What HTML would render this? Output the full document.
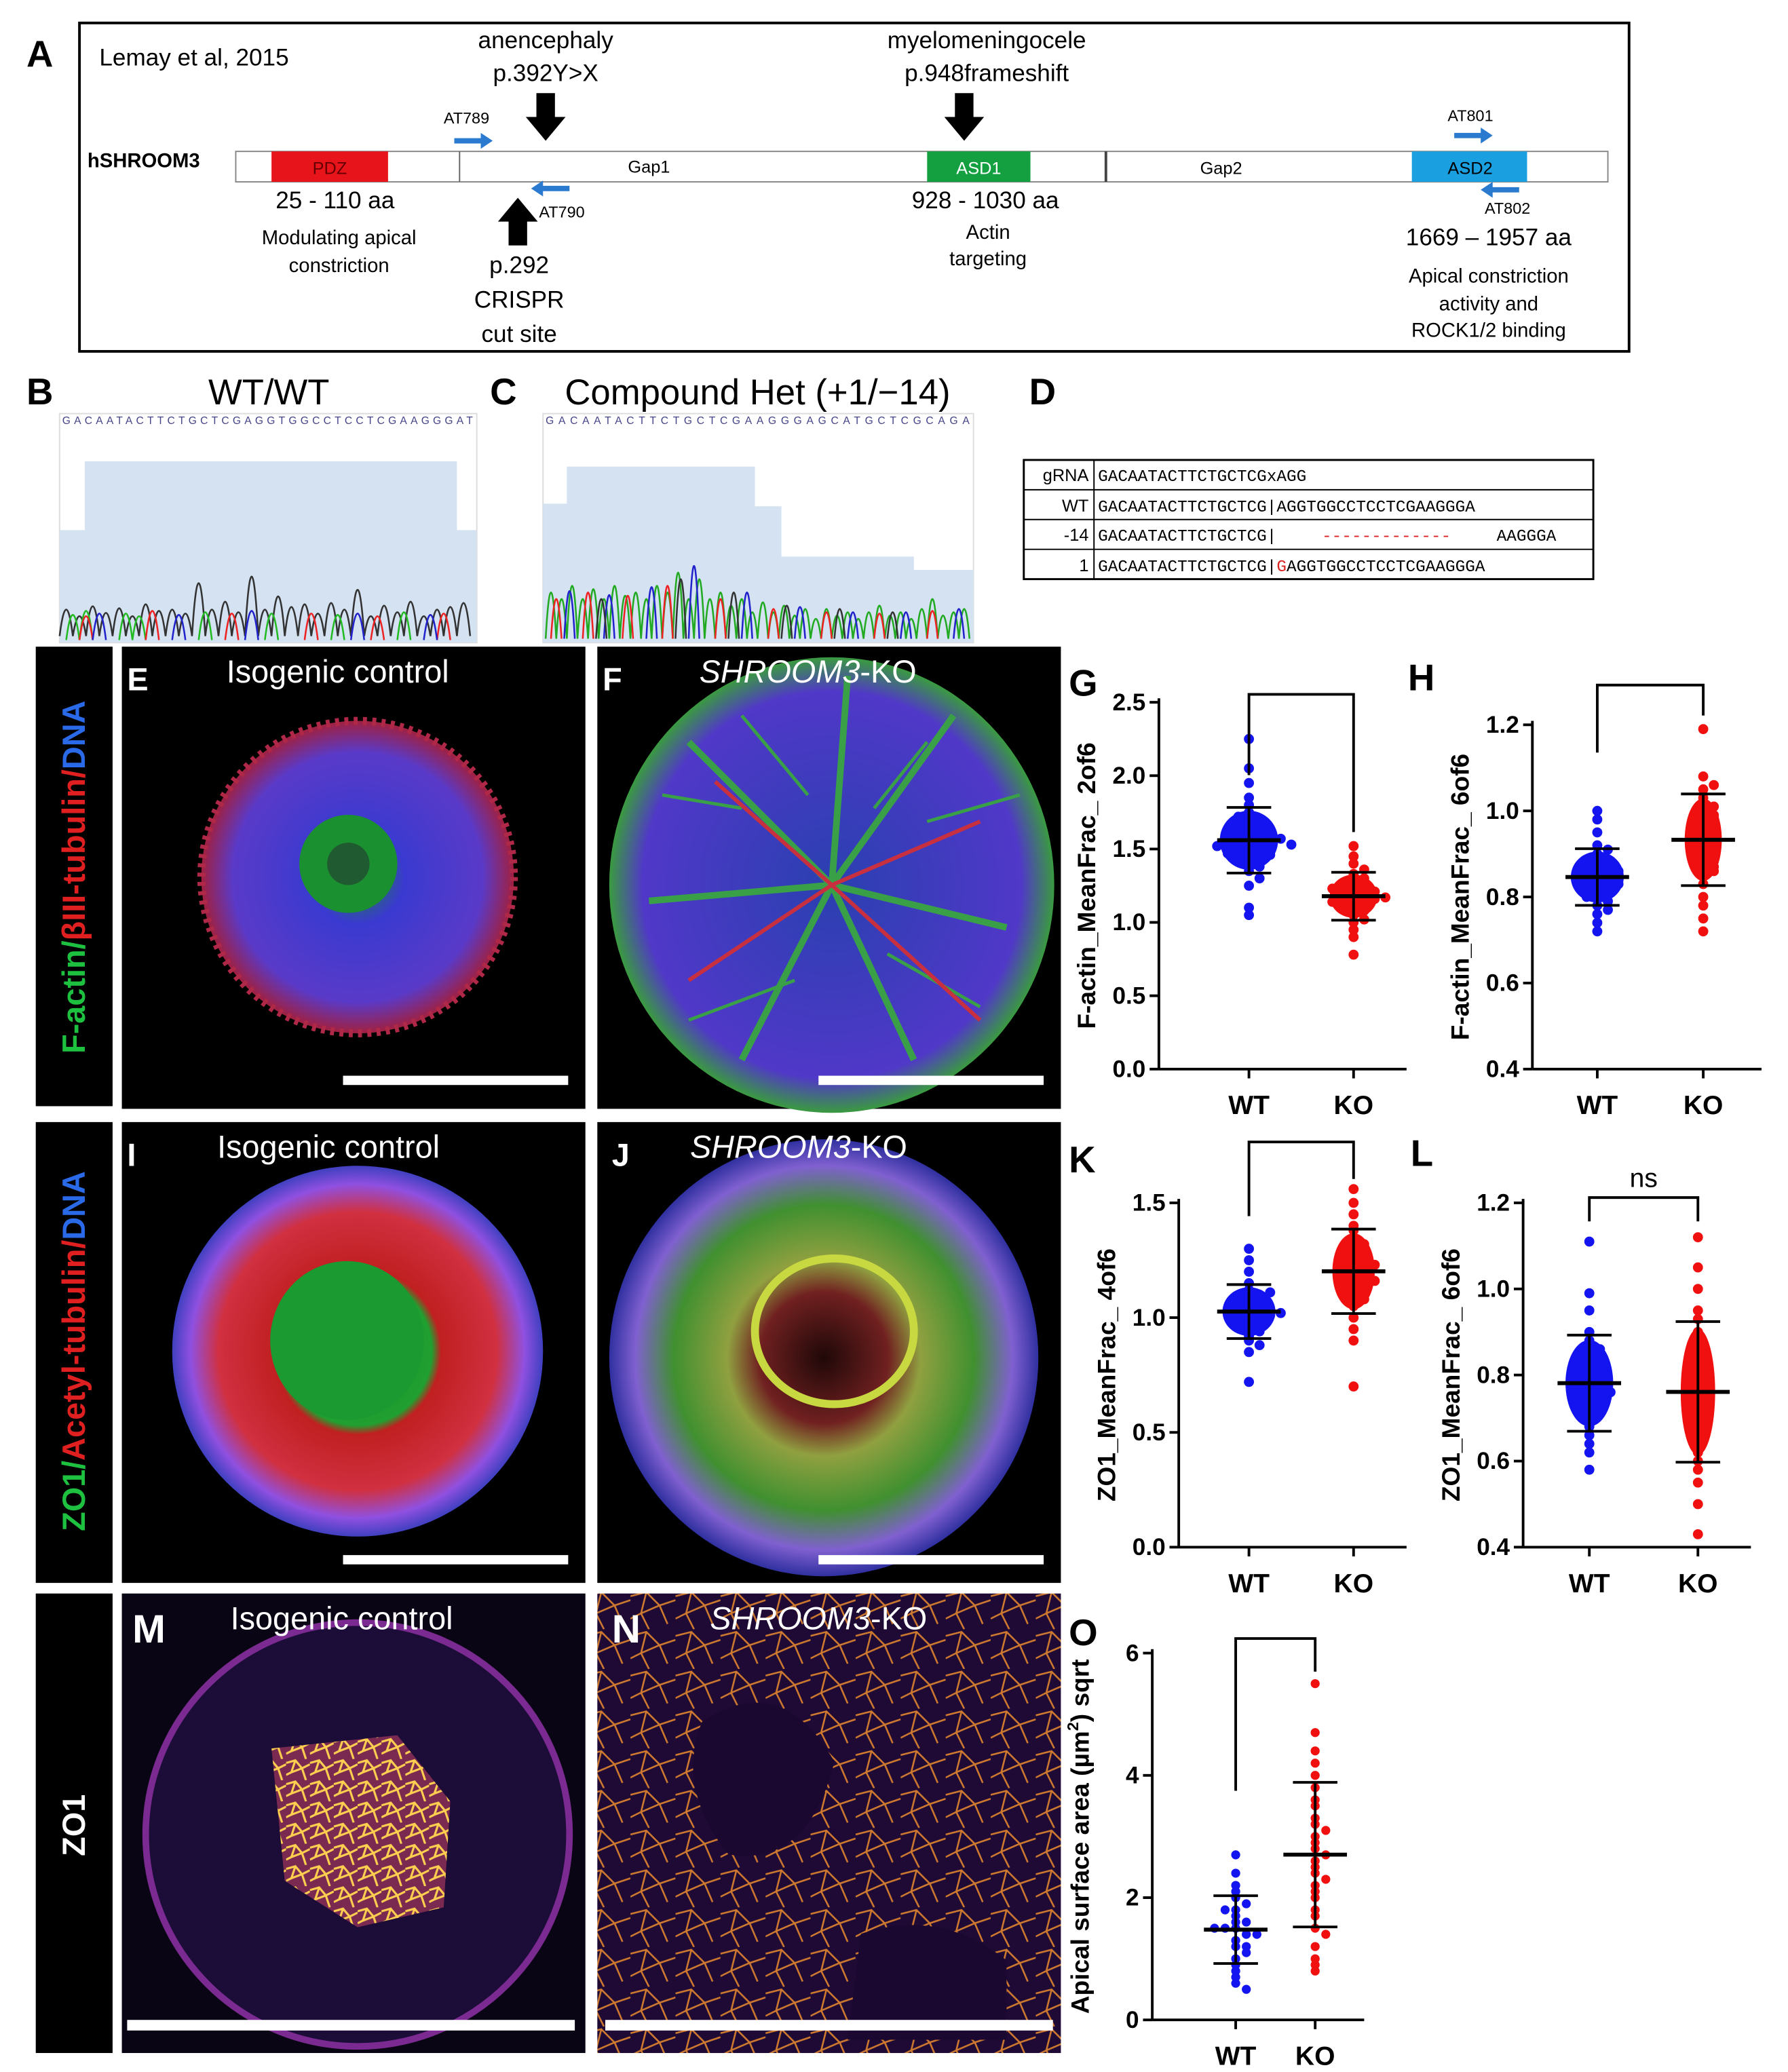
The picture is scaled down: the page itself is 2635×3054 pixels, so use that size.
<!DOCTYPE html>
<html><head><meta charset="utf-8">
<style>
html,body{margin:0;padding:0;background:#fff;}
svg{display:block;font-family:"Liberation Sans",sans-serif;}
</style></head>
<body>
<svg id="fig" width="2635" height="3054" viewBox="0 0 1350 1564" xmlns="http://www.w3.org/2000/svg">
<defs>
<radialGradient id="gE" cx="50%" cy="50%" r="50%"><stop offset="0" stop-color="#1a8a2a"/><stop offset="0.3" stop-color="#3a3ad0"/><stop offset="0.8" stop-color="#5a3ac8"/><stop offset="1" stop-color="#a02040"/></radialGradient>
<radialGradient id="gF" cx="50%" cy="50%" r="50%"><stop offset="0" stop-color="#2a40b0"/><stop offset="0.85" stop-color="#5038c8"/><stop offset="1" stop-color="#3a9a40"/></radialGradient>
<radialGradient id="gI" cx="50%" cy="50%" r="50%"><stop offset="0" stop-color="#1a9030"/><stop offset="0.4" stop-color="#20a030"/><stop offset="0.45" stop-color="#c02020"/><stop offset="0.75" stop-color="#d03040"/><stop offset="0.9" stop-color="#9050e0"/><stop offset="1" stop-color="#4040c0"/></radialGradient>
<radialGradient id="gJ" cx="50%" cy="50%" r="50%"><stop offset="0" stop-color="#200808"/><stop offset="0.3" stop-color="#702020"/><stop offset="0.45" stop-color="#90a040"/><stop offset="0.7" stop-color="#409030"/><stop offset="0.88" stop-color="#8060d0"/><stop offset="1" stop-color="#3030a0"/></radialGradient>
<pattern id="net" width="34" height="30" patternUnits="userSpaceOnUse"><rect width="34" height="30" fill="#1e0a34"/><path d="M0 5 L12 2 L22 12 L34 8 M12 2 L8 18 L22 12 L28 26 M8 18 L0 22 M8 18 L14 30" stroke="#d07a30" stroke-width="1.3" fill="none"/></pattern>
<pattern id="net2" width="18" height="16" patternUnits="userSpaceOnUse"><rect width="18" height="16" fill="#7a2a50"/><path d="M0 3 L7 1 L12 7 L18 4 M7 1 L4 10 L12 7 L15 16 M4 10 L0 12" stroke="#ffd050" stroke-width="1.6" fill="none"/></pattern>
</defs>

<!-- Panel A -->
<g>
<text x="20" y="50" font-size="28" font-weight="bold">A</text>
<rect x="60" y="17" width="1170" height="248" fill="none" stroke="#000" stroke-width="2"/>
<text x="75" y="49" font-size="18">Lemay et al, 2015</text>
<text x="66" y="126" font-size="15" font-weight="bold">hSHROOM3</text>
<rect x="178" y="114" width="1036" height="23" fill="#fff" stroke="#888"/>
<rect x="205" y="114" width="88" height="23" fill="#e8141c"/>
<text x="249" y="131" font-size="13" text-anchor="middle" fill="#600">PDZ</text>
<line x1="347" y1="114" x2="347" y2="137" stroke="#666"/>
<text x="490" y="130" font-size="13" text-anchor="middle">Gap1</text>
<rect x="700" y="114" width="78" height="23" fill="#14a040"/>
<text x="739" y="131" font-size="13" text-anchor="middle" fill="#fff">ASD1</text>
<line x1="835" y1="114" x2="835" y2="137" stroke="#444" stroke-width="2"/>
<text x="922" y="131" font-size="13" text-anchor="middle">Gap2</text>
<rect x="1066" y="114" width="87" height="23" fill="#1aa0e0"/>
<text x="1110" y="131" font-size="13" text-anchor="middle">ASD2</text>
<text x="412" y="36" font-size="18" text-anchor="middle">anencephaly</text>
<text x="412" y="61" font-size="18" text-anchor="middle">p.392Y&gt;X</text>
<path d="M405 70 h14 v18 h8 l-15 18 l-15 -18 h8z" fill="#000"/>
<text x="745" y="36" font-size="18" text-anchor="middle">myelomeningocele</text>
<text x="745" y="61" font-size="18" text-anchor="middle">p.948frameshift</text>
<path d="M721 70 h14 v18 h8 l-15 18 l-15 -18 h8z" fill="#000"/>
<path d="M384 185 h14 v-18 h8 l-15 -18 l-15 18 h8z" fill="#000"/>
<text x="392" y="206" font-size="18" text-anchor="middle">p.292</text>
<text x="392" y="232" font-size="18" text-anchor="middle">CRISPR</text>
<text x="392" y="258" font-size="18" text-anchor="middle">cut site</text>
<text x="335" y="93" font-size="12">AT789</text>
<path d="M343 104 h20 v-4 l9 6 l-9 6 v-4 h-20z" fill="#2a7ad0"/>
<text x="407" y="164" font-size="12">AT790</text>
<path d="M430 140 h-20 v-4 l-9 6 l9 6 v-4 h20z" fill="#2a7ad0"/>
<text x="1093" y="91" font-size="12">AT801</text>
<path d="M1098 100 h20 v-4 l9 6 l-9 6 v-4 h-20z" fill="#2a7ad0"/>
<text x="1121" y="161" font-size="12">AT802</text>
<path d="M1147 141 h-20 v-4 l-9 6 l9 6 v-4 h20z" fill="#2a7ad0"/>
<text x="253" y="157" font-size="18" text-anchor="middle">25 - 110 aa</text>
<text x="256" y="184" font-size="15" text-anchor="middle">Modulating apical</text>
<text x="256" y="205" font-size="15" text-anchor="middle">constriction</text>
<text x="744" y="157" font-size="18" text-anchor="middle">928 - 1030 aa</text>
<text x="746" y="180" font-size="15" text-anchor="middle">Actin</text>
<text x="746" y="200" font-size="15" text-anchor="middle">targeting</text>
<text x="1124" y="185" font-size="18" text-anchor="middle">1669 – 1957 aa</text>
<text x="1124" y="213" font-size="15" text-anchor="middle">Apical constriction</text>
<text x="1124" y="234" font-size="15" text-anchor="middle">activity and</text>
<text x="1124" y="254" font-size="15" text-anchor="middle">ROCK1/2 binding</text>
</g>

<!-- Panels B, C -->
<g>
<text x="20" y="305" font-size="28" font-weight="bold">B</text>
<text x="203" y="305" font-size="27" text-anchor="middle">WT/WT</text>
<rect x="45" y="312" width="315" height="173" fill="#fff" stroke="#ddd"/>
<text x="47" y="320" font-size="8" fill="#448" textLength="310">GACAATACTTCTGCTCGAGGTGGCCTCCTCGAAGGGAT</text>
<path d="M45 485 V400 H64 V348 H345 V400 H360 V485Z" fill="#d4e2f2"/>
<path d="M45 480 q5 -40 10 0 q5 -30 10 0 q5 -45 10 0 q5 -35 10 0 q5 -42 10 0 q5 -30 10 0 q5 -48 10 0 q5 -38 10 0 q5 -40 10 0 q5 -34 10 0 q5 -80 10 0 q5 -40 10 0 q5 -52 10 0 q5 -36 10 0 q5 -90 10 0 q5 -40 10 0 q5 -60 10 0 q5 -44 10 0 q5 -48 10 0 q5 -34 10 0 q5 -50 10 0 q5 -40 10 0 q5 -70 10 0 q5 -30 10 0 q5 -46 10 0 q5 -36 10 0 q5 -52 10 0 q5 -30 10 0 q5 -40 10 0 q5 -44 10 0 q5 -50 10 0" fill="none" stroke="#333" stroke-width="1.3"/>
<path d="M50 483 q5 -38 10 0 q5 -44 10 0 M90 483 q5 -40 10 0 q5 -36 10 0 M150 483 q5 -42 10 0 M200 483 q5 -40 10 0 M250 483 q5 -38 10 0 M300 483 q5 -42 10 0" fill="none" stroke="#2b2" stroke-width="1.3"/>
<path d="M60 483 q5 -36 10 0 M110 483 q5 -44 10 0 M170 483 q5 -40 10 0 M230 483 q5 -40 10 0 M280 483 q5 -36 10 0 M330 483 q5 -40 10 0" fill="none" stroke="#e22" stroke-width="1.3"/>
<path d="M70 483 q5 -40 10 0 M130 483 q5 -38 10 0 M185 483 q5 -44 10 0 M265 483 q5 -40 10 0 M320 483 q5 -38 10 0" fill="none" stroke="#22c" stroke-width="1.3"/>
</g>
<g>
<text x="370" y="305" font-size="28" font-weight="bold">C</text>
<text x="572" y="305" font-size="27" text-anchor="middle">Compound Het (+1/−14)</text>
<rect x="410" y="312" width="325" height="173" fill="#fff" stroke="#ddd"/>
<text x="412" y="320" font-size="8" fill="#448" textLength="320">GACAATACTTCTGCTCGAAGGGAGCATGCTCGCAGA</text>
<path d="M410 485 V380 H428 V352 H570 V382 H590 V420 H690 V430 H735 V485Z" fill="#d4e2f2"/>
<path d="M412 482 q4 -70 8 0 q4 -60 8 0 q4 -80 8 0 q4 -60 8 0 q4 -75 8 0 q4 -60 8 0 q4 -80 8 0 q4 -65 8 0 q4 -70 8 0 q4 -60 8 0 q4 -80 8 0 q4 -70 8 0 q4 -100 8 0 q4 -60 8 0 q4 -90 8 0 q4 -60 8 0 q4 -70 8 0 q4 -50 8 0 q4 -60 8 0 q4 -40 8 0 q4 -55 8 0 q4 -40 8 0 q4 -50 8 0 q4 -35 8 0 q4 -45 8 0 q4 -30 8 0 q4 -45 8 0 q4 -35 8 0 q4 -40 8 0 q4 -30 8 0 q4 -40 8 0 q4 -50 8 0 q4 -35 8 0 q4 -40 8 0 q4 -30 8 0 q4 -45 8 0 q4 -60 8 0 q4 -35 8 0 q4 -40 8 0 q4 -45 8 0" fill="none" stroke="#2a2" stroke-width="1.3"/>
<path d="M416 482 q4 -60 8 0 M440 482 q4 -70 8 0 M470 482 q4 -65 8 0 M500 482 q4 -80 8 0 M540 482 q4 -60 8 0 M580 482 q4 -45 8 0 M620 482 q4 -40 8 0 M660 482 q4 -38 8 0 M700 482 q4 -42 8 0" fill="none" stroke="#e22" stroke-width="1.3"/>
<path d="M426 482 q4 -72 8 0 M456 482 q4 -66 8 0 M488 482 q4 -78 8 0 M520 482 q4 -110 8 0 M560 482 q4 -70 8 0 M600 482 q4 -48 8 0 M640 482 q4 -40 8 0 M680 482 q4 -40 8 0 M720 482 q4 -45 8 0" fill="none" stroke="#22c" stroke-width="1.3"/>
<path d="M450 482 q4 -60 8 0 M510 482 q4 -90 8 0 M550 482 q4 -70 8 0 M590 482 q4 -50 8 0 M630 482 q4 -45 8 0 M670 482 q4 -40 8 0" fill="none" stroke="#333" stroke-width="1.3"/>
</g>

<!-- Panel D -->
<g font-family="Liberation Mono, monospace" font-size="12.5">
<text x="777" y="305" font-size="28" font-weight="bold" font-family="Liberation Sans, sans-serif">D</text>
<rect x="773" y="347" width="430" height="90" fill="none" stroke="#000" stroke-width="1.5"/>
<line x1="826" y1="347" x2="826" y2="437" stroke="#000"/>
<line x1="773" y1="369.5" x2="1203" y2="369.5" stroke="#000"/>
<line x1="773" y1="392" x2="1203" y2="392" stroke="#000"/>
<line x1="773" y1="414.5" x2="1203" y2="414.5" stroke="#000"/>
<text x="822" y="363" text-anchor="end" font-family="Liberation Sans, sans-serif" font-size="13">gRNA</text>
<text x="829" y="363">GACAATACTTCTGCTCGxAGG</text>
<text x="822" y="386" text-anchor="end" font-family="Liberation Sans, sans-serif" font-size="13">WT</text>
<text x="829" y="386">GACAATACTTCTGCTCG|AGGTGGCCTCCTCGAAGGGA</text>
<text x="822" y="408" text-anchor="end" font-family="Liberation Sans, sans-serif" font-size="13">-14</text>
<text x="829" y="408">GACAATACTTCTGCTCG|</text>
<text x="998" y="408" fill="#d22">-------------</text>
<text x="1130" y="408">AAGGGA</text>
<text x="822" y="431" text-anchor="end" font-family="Liberation Sans, sans-serif" font-size="13">1</text>
<text x="829" y="431">GACAATACTTCTGCTCG|<tspan fill="#d22">G</tspan>AGGTGGCCTCCTCGAAGGGA</text>
</g>

<!-- Microscopy row 1 -->
<g>
<rect x="27" y="488" width="58" height="347" fill="#000"/>
<text transform="translate(64,662) rotate(-90)" text-anchor="middle" font-size="24" font-weight="bold"><tspan fill="#1ec040">F-actin/</tspan><tspan fill="#e02020">βIII-tubulin/</tspan><tspan fill="#2a6ae8">DNA</tspan></text>
<rect x="92" y="488" width="350" height="349" fill="#000"/>
<circle cx="270" cy="662" r="118" fill="url(#gE)"/>
<circle cx="270" cy="662" r="118" fill="none" stroke="#b02848" stroke-width="6" stroke-dasharray="3 4"/>
<circle cx="263" cy="652" r="37" fill="#1a9030"/>
<circle cx="263" cy="652" r="16" fill="#205a30"/>
<text x="96" y="521" font-size="24" font-weight="bold" fill="#fff">E</text>
<text x="255" y="515" font-size="24" fill="#fff" text-anchor="middle">Isogenic control</text>
<rect x="259" y="812" width="170" height="7" fill="#fff"/>
<rect x="451" y="488" width="350" height="349" fill="#000"/>
<ellipse cx="628" cy="668" rx="168" ry="172" fill="url(#gF)"/>
<path d="M628 668 L520 560 M628 668 L720 540 M628 668 L760 700 M628 668 L560 800 M628 668 L690 800 M628 668 L490 680 M628 668 L640 510" stroke="#3aa048" stroke-width="5" fill="none"/>
<path d="M560 610 L500 600 M700 620 L770 600 M600 740 L520 770 M670 720 L740 760 M610 600 L560 540 M660 610 L700 560" stroke="#3aa048" stroke-width="2.5" fill="none"/>
<path d="M628 668 L540 590 M628 668 L740 620 M628 668 L520 740 M628 668 L740 770" stroke="#c83040" stroke-width="3" fill="none"/>
<text x="455" y="521" font-size="24" font-weight="bold" fill="#fff">F</text>
<text x="610" y="515" font-size="24" fill="#fff" text-anchor="middle" font-style="italic">SHROOM3<tspan font-style="normal">-KO</tspan></text>
<rect x="618" y="812" width="170" height="7" fill="#fff"/>
</g>

<!-- Microscopy row 2 -->
<g>
<rect x="27" y="847" width="58" height="348" fill="#000"/>
<text transform="translate(64,1020) rotate(-90)" text-anchor="middle" font-size="24" font-weight="bold"><tspan fill="#1ec040">ZO1/</tspan><tspan fill="#e02020">Acetyl-tubulin/</tspan><tspan fill="#2a6ae8">DNA</tspan></text>
<rect x="92" y="847" width="350" height="348" fill="#000"/>
<circle cx="270" cy="1020" r="140" fill="url(#gI)"/>
<ellipse cx="262" cy="1012" rx="58" ry="60" fill="#1a9a30"/>
<text x="96" y="880" font-size="24" font-weight="bold" fill="#fff">I</text>
<text x="248" y="874" font-size="24" fill="#fff" text-anchor="middle">Isogenic control</text>
<rect x="259" y="1174" width="170" height="7" fill="#fff"/>
<rect x="451" y="847" width="350" height="348" fill="#000"/>
<ellipse cx="622" cy="1025" rx="162" ry="165" fill="url(#gJ)"/>
<ellipse cx="630" cy="1005" rx="60" ry="55" fill="none" stroke="#c8d840" stroke-width="6"/>
<text x="462" y="880" font-size="24" font-weight="bold" fill="#fff">J</text>
<text x="603" y="874" font-size="24" fill="#fff" text-anchor="middle" font-style="italic">SHROOM3<tspan font-style="normal">-KO</tspan></text>
<rect x="618" y="1174" width="170" height="7" fill="#fff"/>
</g>

<!-- Microscopy row 3 -->
<g>
<rect x="27" y="1203" width="58" height="347" fill="#000"/>
<text transform="translate(64,1378) rotate(-90)" text-anchor="middle" font-size="24" font-weight="bold" fill="#fff">ZO1</text>
<rect x="92" y="1203" width="350" height="347" fill="#0a0514"/>
<circle cx="270" cy="1385" r="160" fill="#1c0c38" stroke="#7a2a90" stroke-width="5"/>
<path d="M205 1320 L300 1310 L340 1360 L335 1440 L270 1455 L215 1420 Z" fill="url(#net2)"/>
<text x="100" y="1240" font-size="30" font-weight="bold" fill="#fff">M</text>
<text x="258" y="1230" font-size="24" fill="#fff" text-anchor="middle">Isogenic control</text>
<rect x="96" y="1525" width="338" height="8" fill="#fff"/>
<rect x="451" y="1203" width="350" height="347" fill="url(#net)"/>
<path d="M530 1300 q60 -40 100 30 q-20 80 -80 70 q-40 -50 -20 -100z M650 1460 q60 -20 110 20 v60 h-120z" fill="#1a0830"/>
<text x="462" y="1240" font-size="30" font-weight="bold" fill="#fff">N</text>
<text x="618" y="1230" font-size="24" fill="#fff" text-anchor="middle" font-style="italic">SHROOM3<tspan font-style="normal">-KO</tspan></text>
<rect x="457" y="1525" width="338" height="8" fill="#fff"/>
</g>

<g id="charts"></g>
</svg>
<script>
// ---- chart data ----
const categories = ["WT","KO"];
const gWT = [1.53,1.55,1.50,1.48,1.60,1.45,1.62,1.52,1.58,1.40,1.70,1.35,1.75,1.30,1.80,1.25,1.85,1.95,2.05,2.25,1.10,1.05,1.54,1.51,1.56,1.49,1.47,1.63,1.65,1.42,1.38,1.68,1.72,1.57,1.44,1.52,1.59,1.46,1.61,1.53];
const gKO = [1.19,1.20,1.15,1.22,1.10,1.28,1.05,1.33,1.00,1.40,1.45,1.52,0.95,0.90,0.78,1.18,1.24,1.12,1.30,1.08,1.21,1.16,1.26,1.36,1.02,1.14,1.23,1.17];
const hWT = [0.84,0.85,0.83,0.82,0.86,0.80,0.88,0.78,0.90,0.76,0.92,0.74,0.95,0.72,0.98,1.00,0.84,0.87,0.81,0.83,0.79,0.89,0.85,0.86,0.82,0.77,0.91,0.84,0.80,0.88];
const hKO = [0.92,0.95,0.88,1.00,0.85,1.05,0.80,0.98,0.90,1.02,0.75,0.72,1.08,1.19,0.93,0.96,0.87,0.83,1.03,0.91,0.99,0.86,0.94,1.06,0.78,0.97,0.89,1.01];
const kWT = [1.03,1.02,1.05,1.00,1.08,0.98,1.10,0.95,1.12,0.92,1.15,0.90,1.20,0.88,1.25,1.30,0.85,0.72,1.04,1.01,1.06,0.99,1.07,0.96,1.03,1.09,0.97,1.02,1.11,0.94];
const kKO = [1.19,1.20,1.22,1.15,1.25,1.10,1.30,1.05,1.35,1.00,1.40,0.95,1.45,1.50,1.56,0.90,0.70,1.18,1.21,1.24,1.13,1.28,1.17,1.32,1.08,1.38,1.23,1.16];
const lWT = [0.77,0.76,0.78,0.74,0.80,0.72,0.82,0.70,0.85,0.68,0.88,0.66,0.90,0.64,0.95,0.99,0.62,0.58,1.11,0.77,0.75,0.79,0.73,0.81,0.71,0.83,0.69,0.76,0.78,0.86];
const lKO = [0.75,0.78,0.72,0.80,0.70,0.85,0.66,0.90,0.62,0.95,0.58,1.00,0.55,1.05,0.50,1.12,0.43,0.76,0.74,0.82,0.68,0.88,0.64,0.79,0.73,0.93,0.60,0.77];
const oWT = [1.5,1.4,1.6,1.2,1.8,1.0,2.0,0.9,2.2,0.8,2.4,0.6,2.7,0.5,1.3,1.7,1.1,1.9,1.5,1.6,1.4,2.1,1.2,0.7,1.8,1.5];
const oKO = [2.6,2.4,2.8,2.0,3.0,1.8,3.3,1.5,3.6,1.2,4.0,1.0,4.4,0.8,4.7,5.5,2.2,2.9,2.5,3.2,1.7,3.8,2.7,1.4,3.5,2.3,0.9,4.2,2.1,3.1];
const gTicks = ["0.0","0.5","1.0","1.5","2.0","2.5"];
const hTicks = ["0.4","0.6","0.8","1.0","1.2"];
const kTicks = ["0.0","0.5","1.0","1.5"];
const lTicks = ["0.4","0.6","0.8","1.0","1.2"];
const oTicks = ["0","2","4","6"];

const NS="http://www.w3.org/2000/svg";
const root=document.getElementById('charts');
function mk(tag,attrs,parent){const e=document.createElementNS(NS,tag);for(const k in attrs)e.setAttribute(k,attrs[k]);(parent||root).appendChild(e);return e;}
function mean(a){return a.reduce((s,v)=>s+v,0)/a.length;}
function sd(a){const m=mean(a);return Math.sqrt(a.reduce((s,v)=>s+(v-m)*(v-m),0)/(a.length-1));}

function chart(c){
  const g=mk('g',{});
  
  
  const ticks=c.ticks.map(Number);
  const lo=ticks[0], hi=ticks[ticks.length-1];
  const y=v=>c.y0+(v-lo)/(hi-lo)*(c.y1-c.y0);
  const x=i=>c.xs[i];
  const ax=mk('line',{x1:c.ax,y1:c.y0,x2:c.ax,y2:c.y1-3,stroke:'#000','stroke-width':2},g);
  
  
  const bx=mk('line',{x1:c.ax,y1:c.y0,x2:c.xEnd,y2:c.y0,stroke:'#000','stroke-width':2},g);
  
  
  c.ticks.forEach(t=>{
    const yy=y(Number(t));
    mk('line',{x1:c.ax-7,y1:yy,x2:c.ax,y2:yy,stroke:'#000','stroke-width':2},g);
    const tx=mk('text',{x:c.ax-10,y:yy+6,'font-size':18,'font-weight':'bold','text-anchor':'end'},g);
    tx.textContent=t;
    
    
  });
  categories.forEach((cat,i)=>{
    mk('line',{x1:x(i),y1:c.y0,x2:x(i),y2:c.y0+7,stroke:'#000','stroke-width':2},g);
    const tx=mk('text',{x:x(i),y:c.y0+34,'font-size':20,'font-weight':'bold','text-anchor':'middle'},g);
    tx.textContent=cat;
    
    
  });
  const yl=mk('text',{transform:`translate(${c.ax-48},${(c.y0+c.y1)/2}) rotate(-90)`,'font-size':19,'font-weight':'bold','text-anchor':'middle'},g);
  yl.innerHTML=c.ylabel;
  
  
  const lt=mk('text',{x:c.lx,y:c.ly,'font-size':28,'font-weight':'bold'},g);
  lt.textContent=c.letter;
  
  
  [c.a,c.b].forEach((arr,i)=>{
    const col=i?'#f01010':'#1414f0';
    const m=mean(arr), s=sd(arr);
    if(c.dense){
      const bl=mk('ellipse',{cx:x(i),cy:y(m),rx:c.dense[i],ry:Math.abs(y(m+s)-y(m))*0.9,fill:col},g);
      
      
    }
    const bins={};
    arr.forEach(v=>{
      const yy=y(v);const key=Math.round(yy/6);
      const n=bins[key]||0;bins[key]=n+1;
      const off=(n%2?1:-1)*Math.ceil(n/2)*8;
      const dt=mk('circle',{cx:x(i)+off,cy:yy,r:c.r||3.8,fill:col},g);
      
      
    });
    const w=24;
    mk('line',{x1:x(i),y1:y(m-s),x2:x(i),y2:y(m+s),stroke:'#000','stroke-width':2},g);
    const ml=mk('line',{x1:x(i)-w,y1:y(m),x2:x(i)+w,y2:y(m),stroke:'#000','stroke-width':3},g);
    
    
    mk('line',{x1:x(i)-w*0.7,y1:y(m-s),x2:x(i)+w*0.7,y2:y(m-s),stroke:'#000','stroke-width':2},g);
    mk('line',{x1:x(i)-w*0.7,y1:y(m+s),x2:x(i)+w*0.7,y2:y(m+s),stroke:'#000','stroke-width':2},g);
  });
  const bt=c.bracketY;
  const br=mk('path',{d:`M${x(0)} ${c.bra} V${bt} H${x(1)} V${c.brb}`,fill:'none',stroke:'#000','stroke-width':2},g);
  
  
  if(c.ns){const t=mk('text',{x:(x(0)+x(1))/2,y:bt-8,'font-size':20,'text-anchor':'middle'},g);t.textContent='ns';}
}
chart({name:'chart-g',letter:'G',lx:807,ly:525,ticks:gTicks,y0:807,y1:530,ax:875,xEnd:1062,xs:[943,1022],a:gWT,b:gKO,dense:[22,18],ylabel:'F-actin_MeanFrac_ 2of6',bracketY:524,bra:585,brb:628});
chart({name:'chart-h',letter:'H',lx:1063,ly:521,ticks:hTicks,y0:807,y1:547,ax:1157,xEnd:1330,xs:[1206,1286],a:hWT,b:hKO,dense:[20,14],ylabel:'F-actin_MeanFrac_ 6of6',bracketY:517,bra:568,brb:540});
chart({name:'chart-k',letter:'K',lx:807,ly:885,ticks:kTicks,y0:1168,y1:908,ax:890,xEnd:1062,xs:[943,1022],a:kWT,b:kKO,dense:[20,16],ylabel:'ZO1_MeanFrac_ 4of6',bracketY:862,bra:918,brb:890});
chart({name:'chart-l',letter:'L',lx:1065,ly:880,ticks:lTicks,y0:1168,y1:908,ax:1150,xEnd:1322,xs:[1200,1282],a:lWT,b:lKO,dense:[18,13],ylabel:'ZO1_MeanFrac_ 6of6',bracketY:904,bra:922,brb:922,ns:true});
chart({name:'chart-o',letter:'O',lx:807,ly:1242,ticks:oTicks,y0:1525,y1:1248,ax:870,xEnd:1030,xs:[933,993],a:oWT,b:oKO,r:3.4,ylabel:'Apical surface area (µm<tspan font-size="12" dy="-8">2</tspan><tspan dy="8">) sqrt</tspan>',bracketY:1237,bra:1352,brb:1262});
</script>
</body></html>
